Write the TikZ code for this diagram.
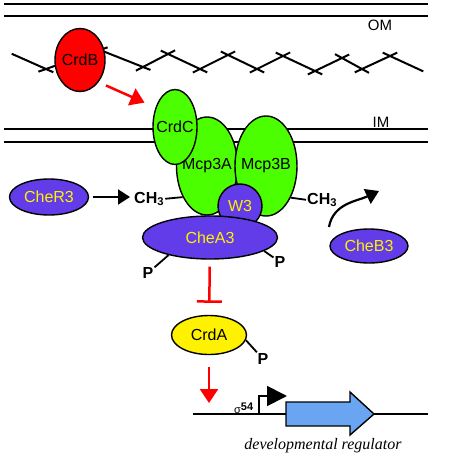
\documentclass[tikz,border=0pt]{standalone}
\usepackage{fontspec}
\setmainfont{Liberation Sans}
\newfontfamily\genefont{Liberation Serif}
\usetikzlibrary{arrows.meta,shapes.geometric}
\definecolor{chepurple}{RGB}{98,60,232}
\definecolor{mcpgreen}{RGB}{76,255,0}
\definecolor{geneblue}{RGB}{105,165,240}
\newcommand{\lbl}[1]{\makebox[0pt]{#1}}

\begin{document}
\begin{tikzpicture}[x=1pt,y=-1pt,
  every node/.style={font=\fontsize{16}{18}\selectfont},
  prot/.style={ellipse,draw=black,line width=1.4pt,inner sep=0pt},
  che/.style={prot,fill=chepurple,text=yellow},
  mcp/.style={prot,fill=mcpgreen},
  chem/.style={font=\fontsize{16}{18}\selectfont\bfseries,inner sep=1pt},
  memlabel/.style={font=\fontsize{15}{17}\selectfont},
  redarrow/.style={red,line width=2.5pt,-{Triangle[length=14pt,width=18pt]}},
  >={Triangle[length=12pt,width=15pt]}]
  \useasboundingbox (0,0) rectangle (451,460);

  % membranes
  \foreach \y in {4,16,129,142}{
    \draw[line width=1.8pt] (4,\y) -- (428,\y);
  }
  \node[memlabel] (om) at (380,25) {OM};
  \node[memlabel] (im) at (381,122) {IM};

  % lipid chain of the outer membrane
  \foreach \xa/\ya/\xb/\yb in {19/57/46/69, 46/69/100/50, 100/50/143/67, 143/67/168/54,
      168/54/200/69, 200/69/228/55, 228/55/257/69, 257/69/283/56, 283/56/315/71,
      315/71/342/58, 342/58/362/69, 362/69/390/56, 390/56/416/68}{
    \draw[line width=2pt,shorten <=-8pt,shorten >=-8pt] (\xa,\ya) -- (\xb,\yb);
  }

  \node[prot,fill=red,minimum width=50pt,minimum height=63pt] (crdB) at (80,60) {\lbl{CrdB}};

  % receptor complex
  \node[mcp,minimum width=61pt,minimum height=98pt] (mcpA) at (207,166) {\lbl{Mcp3A}};
  \node[mcp,minimum width=62pt,minimum height=100pt] (mcpB) at (266,166) {\lbl{Mcp3B}};
  \node[mcp,minimum width=44pt,minimum height=75pt] (crdC) at (175,127) {\lbl{CrdC}};
  \node[che,minimum width=44pt,minimum height=44pt] (w3) at (240,206) {W3};
  \node[che,minimum width=135pt,minimum height=43pt] (cheA) at (210,237.5) {CheA3};

  \draw[redarrow,shorten <=8pt,shorten >=12pt] (crdB.-50) -- (crdC.135);

  % methylation
  \node[che,minimum width=79pt,minimum height=36pt] (cheR) at (49,197) {CheR3};
  \node[che,minimum width=78pt,minimum height=34pt] (cheB) at (369,246) {CheB3};
  \node[chem,anchor=base west] (ch3L) at (133,203) {CH\textsubscript{3}};
  \node[chem,anchor=base west] (ch3R) at (306,204) {CH\textsubscript{3}};
  \draw[line width=2pt,->,shorten <=4pt,shorten >=3pt] (cheR) -- (cheR -| ch3L.west);
  \draw[line width=1.8pt] (ch3L.east) -- (mcpA.232);
  \draw[line width=1.8pt] (mcpB.308) -- (ch3R.west);
  \coordinate (cheBtail) at (329,227);
  \coordinate (cheBtip) at (379,191);
  \draw[line width=2.2pt,-{Triangle[length=13pt,width=16pt]}] (cheBtail) to[out=80,in=205] (cheBtip);

  % phosphates
  \node[chem] (pL) at (148,273) {P};
  \node[chem] (pR) at (280,262) {P};
  \draw[line width=1.8pt] (cheA.203) -- (pL);
  \draw[line width=1.8pt] (cheA.346) -- (pR);

  \node[prot,fill=yellow,minimum width=75pt,minimum height=39pt] (crdA) at (209,335) {CrdA};
  \node[chem] (pA) at (263,359) {P};
  \draw[line width=1.8pt] (crdA.352) -- (pA);

  \draw[red,line width=2.5pt,-{Bar[width=25pt]},shorten <=7pt,shorten >=12pt] (cheA) -- (crdA);

  % target gene
  \coordinate (dnaL) at (193,414);
  \coordinate (dnaR) at (428,414);
  \coordinate (tss) at (259,414);
  \draw[line width=1.8pt] (dnaL) -- (dnaR);
  \draw[redarrow,shorten <=12pt,shorten >=11pt] (crdA) -- (crdA |- dnaL);
  \draw[line width=1.8pt,-{Triangle[length=20pt,width=20pt]}] (tss) |- (287,396);
  \fill[geneblue,draw=black,line width=1.4pt] (286,402) -- (350,402) -- (350,392) -- (374,414)
    -- (350,435) -- (350,426) -- (286,426) -- cycle;
  \node[anchor=base west,inner sep=0pt,font=\fontsize{11}{13}\selectfont] (sig) at (234,413)
    {σ\raisebox{3pt}{\textbf{54}}};
  \node[font=\genefont\itshape\fontsize{16}{18}\selectfont] (genelbl) at (323,446)
    {developmental regulator};
\end{tikzpicture}
\end{document}
